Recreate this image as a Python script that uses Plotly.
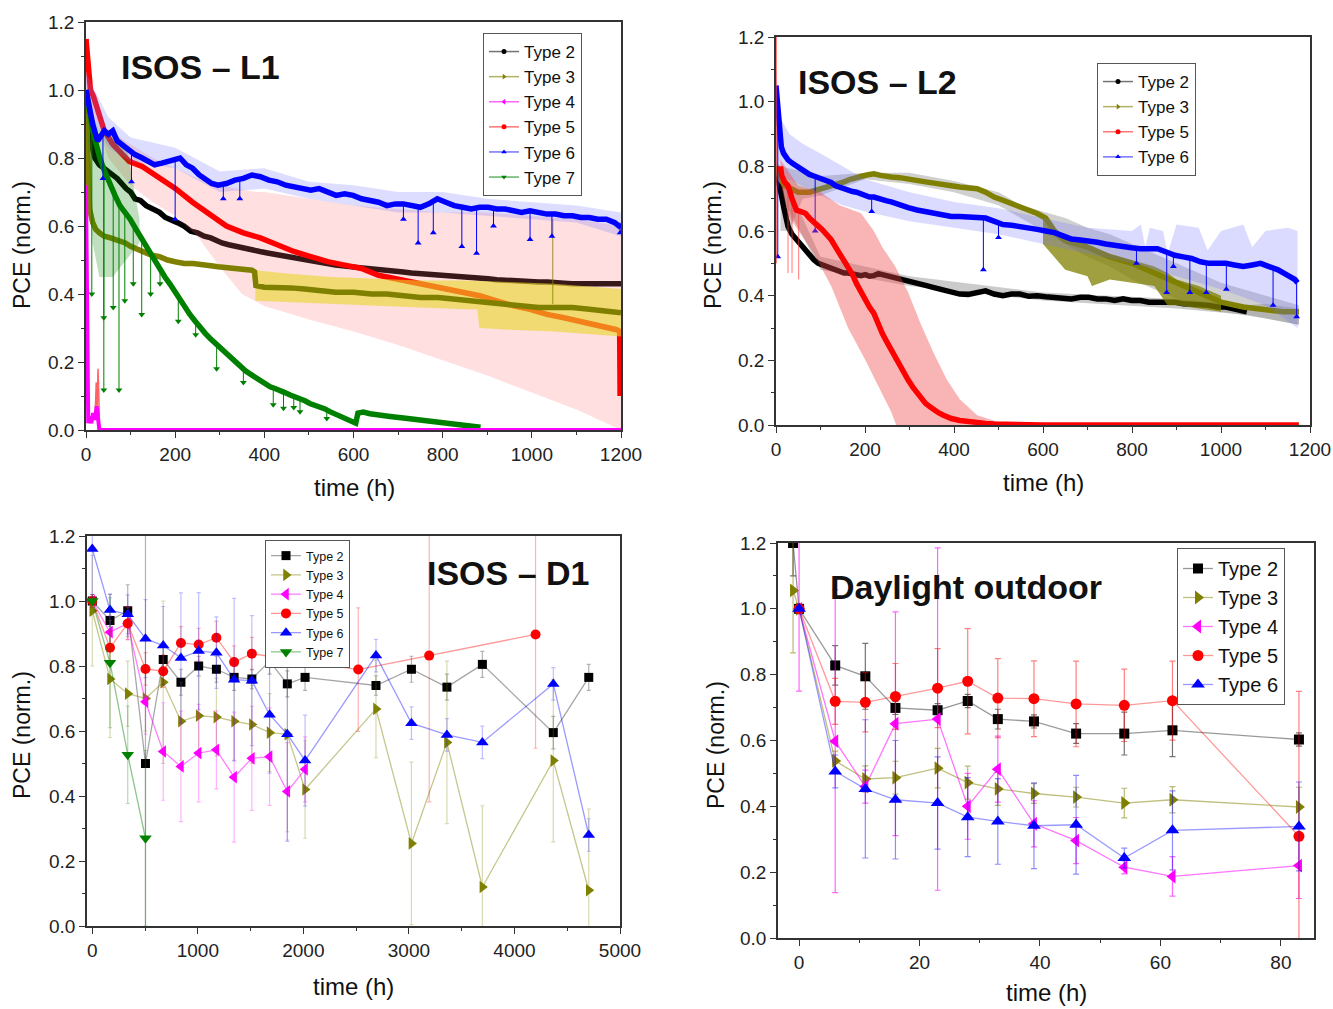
import plotly.graph_objects as go

W, H = 1333, 1009
FONT = "Arial, Liberation Sans, sans-serif"

C2, C3, C4, C5, C6, C7 = "#000000", "#808000", "#ff00ff", "#ff0000", "#0000ff", "#008000"

# ---------------- ISOS-L1: (time h, PCE norm.) ----------------
L1_TYPE2 = [(0, 1.0), (5, 0.90), (10, 0.85), (20, 0.80), (30, 0.78), (50, 0.76), (70, 0.74), (90, 0.71),
            (100, 0.70), (110, 0.68), (122, 0.675), (135, 0.66), (150, 0.65), (165, 0.64), (178, 0.625),
            (190, 0.62), (205, 0.61), (220, 0.60), (235, 0.585), (250, 0.58), (265, 0.57), (280, 0.565),
            (295, 0.555), (305, 0.55), (320, 0.545), (335, 0.54), (352, 0.535), (370, 0.53), (390, 0.525),
            (410, 0.52), (430, 0.515), (450, 0.51), (468, 0.505), (485, 0.50), (505, 0.495), (525, 0.49),
            (545, 0.487), (560, 0.485), (580, 0.482), (600, 0.48), (620, 0.477), (640, 0.475), (660, 0.472),
            (675, 0.47), (695, 0.467), (712, 0.465), (730, 0.462), (750, 0.46), (770, 0.462), (790, 0.46),
            (808, 0.457), (826, 0.455), (845, 0.452), (864, 0.45), (883, 0.447), (902, 0.445), (921, 0.442),
            (940, 0.44), (960, 0.44), (977, 0.44), (996, 0.437), (1015, 0.435), (1035, 0.435), (1055, 0.435),
            (1072, 0.432), (1090, 0.43), (1110, 0.43), (1130, 0.43), (1150, 0.43), (1167, 0.43), (1185, 0.43),
            (1200, 0.43)]
L1_TYPE3 = [(0, 1.0), (3, 0.80), (8, 0.65), (15, 0.61), (22, 0.59), (30, 0.58), (41, 0.57), (55, 0.565),
            (69, 0.56), (88, 0.55), (100, 0.54), (116, 0.53), (130, 0.525), (145, 0.515), (165, 0.51),
            (183, 0.50), (200, 0.495), (220, 0.49), (240, 0.49), (258, 0.485), (280, 0.483), (296, 0.48),
            (315, 0.478), (334, 0.475), (355, 0.472), (372, 0.47), (378, 0.465), (381, 0.425), (400, 0.42),
            (430, 0.42), (460, 0.418), (490, 0.415), (520, 0.41), (560, 0.405), (600, 0.405), (640, 0.40),
            (675, 0.40), (712, 0.395), (750, 0.39), (790, 0.39), (826, 0.385), (864, 0.38), (880, 0.375),
            (902, 0.375), (940, 0.37), (977, 0.365), (1015, 0.36), (1053, 0.36), (1091, 0.36), (1129, 0.355),
            (1167, 0.35), (1200, 0.345)]
L1_TYPE3_UP = [(380, 0.47), (450, 0.46), (550, 0.45), (650, 0.445), (750, 0.44), (850, 0.44), (950, 0.435),
               (1050, 0.43), (1150, 0.42), (1200, 0.415)]
L1_TYPE3_LO = [(380, 0.38), (450, 0.375), (550, 0.37), (650, 0.365), (750, 0.36), (850, 0.355), (878, 0.355),
               (882, 0.30), (950, 0.295), (1050, 0.29), (1150, 0.28), (1200, 0.275)]
L1_TYPE3_SPIKE_T = [1047]
L1_TYPE3_SPIKE_TOP = [0.62]
L1_TYPE3_SPIKE_LOW = [0.37]
L1_TYPE4 = [(0, 0.72), (1, 0.5), (2, 0.3), (3, 0.1), (5, 0.02), (8, 0.04), (12, 0.02), (16, 0.05), (20, 0.03),
            (24, 0.07), (27, 0.04), (30, 0.0), (1200, 0.0)]
L1_TYPE4_SPREAD = [(20, 0.03), (23, 0.14), (25, 0.06), (27, 0.18), (30, 0.04)]
L1_TYPE5 = [(0, 1.15), (2, 1.12), (5, 1.03), (10, 1.0), (17, 0.98), (26, 0.94), (41, 0.88), (60, 0.84),
            (80, 0.81), (97, 0.79), (126, 0.775), (164, 0.74), (201, 0.71), (239, 0.67), (277, 0.635),
            (315, 0.60), (353, 0.58), (391, 0.565), (429, 0.545), (466, 0.525), (504, 0.51), (542, 0.495),
            (580, 0.485), (618, 0.475), (656, 0.455), (694, 0.445), (731, 0.435), (769, 0.425), (807, 0.415),
            (845, 0.405), (883, 0.395), (921, 0.38), (959, 0.365), (996, 0.355), (1034, 0.34), (1072, 0.33),
            (1110, 0.32), (1148, 0.31), (1190, 0.295), (1197, 0.29), (1198, 0.10)]
L1_TYPE5_UP = [(0, 1.15), (20, 0.95), (50, 0.88), (100, 0.84), (150, 0.80), (200, 0.77), (250, 0.74),
               (300, 0.72), (380, 0.70), (400, 0.70), (500, 0.68), (600, 0.66), (700, 0.65), (800, 0.64),
               (900, 0.64), (1000, 0.63), (1100, 0.62), (1200, 0.60)]
L1_TYPE5_LO = [(0, 1.0), (50, 0.80), (100, 0.72), (150, 0.67), (200, 0.63), (250, 0.57), (300, 0.48),
               (350, 0.40), (400, 0.365), (500, 0.325), (600, 0.29), (700, 0.25), (800, 0.205), (900, 0.16),
               (1000, 0.11), (1100, 0.06), (1200, 0.0)]
L1_TYPE6 = [(0, 1.0), (3, 0.98), (8, 0.95), (15, 0.90), (26, 0.85), (35, 0.87), (41, 0.88), (50, 0.87),
            (60, 0.88), (70, 0.85), (79, 0.84), (97, 0.82), (110, 0.81), (126, 0.80), (140, 0.79), (154, 0.78),
            (170, 0.785), (183, 0.79), (197, 0.795), (211, 0.80), (225, 0.78), (239, 0.77), (254, 0.75),
            (268, 0.735), (282, 0.725), (296, 0.72), (315, 0.725), (334, 0.735), (353, 0.74), (372, 0.75),
            (391, 0.745), (410, 0.735), (429, 0.73), (448, 0.72), (466, 0.715), (485, 0.71), (504, 0.705),
            (523, 0.71), (542, 0.70), (561, 0.69), (580, 0.695), (599, 0.69), (618, 0.68), (637, 0.675),
            (656, 0.67), (675, 0.66), (694, 0.665), (712, 0.665), (731, 0.66), (750, 0.655), (769, 0.665),
            (788, 0.68), (807, 0.67), (826, 0.66), (845, 0.655), (864, 0.65), (883, 0.655), (902, 0.655),
            (921, 0.65), (940, 0.65), (959, 0.645), (977, 0.64), (996, 0.645), (1015, 0.64), (1034, 0.635),
            (1053, 0.635), (1072, 0.63), (1091, 0.63), (1110, 0.625), (1129, 0.625), (1148, 0.62),
            (1167, 0.62), (1186, 0.61), (1200, 0.595)]
L1_TYPE6_UP = [(0, 1.05), (50, 0.92), (100, 0.86), (200, 0.83), (300, 0.76), (400, 0.77), (500, 0.73),
               (600, 0.72), (700, 0.70), (800, 0.70), (900, 0.68), (1000, 0.67), (1100, 0.66), (1200, 0.64)]
L1_TYPE6_LO = [(0, 0.95), (50, 0.83), (100, 0.79), (200, 0.77), (300, 0.70), (400, 0.71), (500, 0.68),
               (600, 0.66), (700, 0.64), (800, 0.64), (900, 0.63), (1000, 0.62), (1100, 0.61), (1200, 0.57)]
L1_TYPE6_DIP_T = [38, 102, 200, 308, 345, 712, 745, 779, 843, 876, 914, 996, 1045, 1198]
L1_TYPE6_DIP_TOP = [0.87, 0.82, 0.80, 0.72, 0.74, 0.665, 0.655, 0.68, 0.655, 0.655, 0.65, 0.645, 0.635, 0.61]
L1_TYPE6_DIP_LOW = [0.74, 0.73, 0.62, 0.68, 0.68, 0.62, 0.55, 0.58, 0.54, 0.52, 0.60, 0.56, 0.57, 0.58]
L1_TYPE7 = [(0, 1.0), (5, 0.97), (9, 0.93), (15, 0.88), (20, 0.85), (31, 0.80), (42, 0.76), (54, 0.72),
            (65, 0.69), (76, 0.66), (88, 0.64), (99, 0.62), (110, 0.595), (121, 0.57), (133, 0.545),
            (144, 0.52), (155, 0.495), (166, 0.47), (177, 0.45), (188, 0.43), (200, 0.405), (211, 0.38),
            (222, 0.36), (233, 0.34), (245, 0.32), (256, 0.30), (267, 0.285), (278, 0.27), (290, 0.255),
            (301, 0.24), (312, 0.228), (323, 0.215), (334, 0.20), (345, 0.185), (357, 0.175), (368, 0.165),
            (379, 0.155), (390, 0.147), (401, 0.137), (413, 0.127), (424, 0.122), (435, 0.118), (446, 0.11),
            (458, 0.103), (469, 0.098), (480, 0.094), (491, 0.086), (502, 0.078), (514, 0.073), (525, 0.069),
            (536, 0.062), (547, 0.054), (558, 0.047), (570, 0.039), (581, 0.031), (592, 0.024), (605, 0.02),
            (610, 0.05), (622, 0.053), (637, 0.048), (652, 0.044), (667, 0.042), (682, 0.04), (712, 0.035),
            (742, 0.03), (771, 0.025), (801, 0.02), (831, 0.018), (846, 0.012), (870, 0.01), (885, 0.008)]
L1_TYPE7_UP = [(0, 1.0), (15, 0.93), (30, 0.88), (60, 0.88), (90, 0.84), (120, 0.62)]
L1_TYPE7_LO = [(0, 0.95), (15, 0.55), (30, 0.45), (60, 0.45), (90, 0.50), (120, 0.55)]
L1_TYPE7_DIP_T = [13, 40, 40, 61, 74, 87, 106, 125, 145, 166, 207, 246, 293, 353, 420, 443, 466, 480, 540]
L1_TYPE7_DIP_TOP = [0.90, 0.78, 0.78, 0.71, 0.67, 0.64, 0.605, 0.56, 0.52, 0.47, 0.39, 0.32, 0.25, 0.18,
                    0.13, 0.115, 0.10, 0.094, 0.064]
L1_TYPE7_DIP_LOW = [0.40, 0.33, 0.118, 0.36, 0.118, 0.38, 0.43, 0.34, 0.40, 0.43, 0.32, 0.28, 0.18, 0.14,
                    0.074, 0.064, 0.066, 0.054, 0.034]

# ---------------- ISOS-L2 ----------------
L2_TYPE2 = [(0, 0.80), (4, 0.76), (8, 0.74), (17, 0.676), (27, 0.614), (36, 0.59), (46, 0.573), (56, 0.555),
            (66, 0.542), (75, 0.525), (85, 0.511), (95, 0.50), (104, 0.495), (114, 0.49), (124, 0.485),
            (134, 0.478), (143, 0.475), (153, 0.47), (162, 0.47), (172, 0.466), (181, 0.465), (191, 0.462),
            (201, 0.465), (210, 0.46), (220, 0.462), (230, 0.468), (239, 0.465), (249, 0.462), (259, 0.458),
            (268, 0.455), (278, 0.45), (297, 0.447), (317, 0.44), (336, 0.432), (355, 0.425), (375, 0.418),
            (394, 0.41), (413, 0.405), (432, 0.404), (452, 0.41), (471, 0.415), (490, 0.405), (510, 0.40),
            (529, 0.405), (548, 0.405), (568, 0.398), (587, 0.40), (606, 0.397), (626, 0.395), (645, 0.39),
            (664, 0.39), (684, 0.395), (703, 0.395), (722, 0.39), (741, 0.39), (761, 0.385), (780, 0.39),
            (799, 0.385), (819, 0.385), (838, 0.38), (857, 0.38), (877, 0.378), (896, 0.38), (915, 0.375),
            (934, 0.375), (954, 0.372), (973, 0.37), (992, 0.365), (1011, 0.365), (1030, 0.36), (1050, 0.352),
            (1058, 0.35)]
L2_TYPE2_UP = [(0, 0.82), (100, 0.52), (300, 0.46), (600, 0.41), (900, 0.39), (1060, 0.37), (1100, 0.375),
               (1175, 0.36)]
L2_TYPE2_LO = [(0, 0.74), (100, 0.48), (300, 0.43), (600, 0.385), (900, 0.36), (1060, 0.34), (1100, 0.33),
               (1175, 0.31)]
L2_TYPE3 = [(2, 0.80), (10, 0.76), (20, 0.74), (35, 0.73), (50, 0.72), (75, 0.72), (100, 0.73), (125, 0.74),
            (143, 0.745), (153, 0.752), (167, 0.76), (181, 0.767), (195, 0.77), (210, 0.775), (220, 0.777),
            (235, 0.772), (249, 0.768), (259, 0.767), (278, 0.765), (297, 0.762), (317, 0.757), (336, 0.752),
            (355, 0.748), (375, 0.742), (394, 0.74), (413, 0.736), (432, 0.735), (452, 0.731), (471, 0.72),
            (490, 0.705), (510, 0.695), (529, 0.685), (548, 0.675), (568, 0.665), (587, 0.654), (606, 0.64),
            (615, 0.62), (626, 0.60), (650, 0.57), (700, 0.55), (750, 0.52), (800, 0.50), (850, 0.47),
            (900, 0.44), (950, 0.41), (1000, 0.38), (1050, 0.365), (1100, 0.355), (1140, 0.35), (1175, 0.35)]
L2_TYPE3_UP = [(600, 0.64), (650, 0.58), (700, 0.56), (710, 0.54), (750, 0.53), (800, 0.51), (850, 0.49),
               (880, 0.47), (900, 0.45), (950, 0.43), (1000, 0.40)]
L2_TYPE3_LO = [(600, 0.56), (650, 0.48), (700, 0.46), (710, 0.43), (750, 0.45), (800, 0.44), (850, 0.43),
               (880, 0.37), (900, 0.37), (950, 0.36), (1000, 0.35)]
L2_TYPE3_SPREAD_UP = [(10, 0.80), (100, 0.77), (200, 0.78), (300, 0.78), (400, 0.755), (500, 0.72),
                      (550, 0.68), (600, 0.66), (650, 0.64), (700, 0.61), (750, 0.59), (800, 0.56), (850, 0.53),
                      (900, 0.50), (950, 0.47), (1000, 0.44), (1050, 0.42), (1100, 0.40), (1175, 0.37)]
L2_TYPE3_SPREAD_LO = [(10, 0.60), (30, 0.60), (60, 0.70), (100, 0.71), (200, 0.76), (300, 0.745),
                      (400, 0.72), (500, 0.68), (550, 0.64), (600, 0.60), (650, 0.56), (700, 0.52), (750, 0.49),
                      (800, 0.45), (850, 0.42), (900, 0.39), (950, 0.37), (1000, 0.35), (1050, 0.34),
                      (1100, 0.33), (1175, 0.31)]
L2_TYPE5 = [(10, 0.80), (13, 0.77), (20, 0.75), (27, 0.74), (36, 0.70), (46, 0.665), (56, 0.66), (66, 0.655),
            (75, 0.64), (85, 0.625), (95, 0.615), (104, 0.604), (114, 0.59), (124, 0.573), (134, 0.55),
            (143, 0.53), (153, 0.51), (162, 0.49), (172, 0.465), (181, 0.437), (191, 0.41), (201, 0.386),
            (210, 0.365), (220, 0.345), (230, 0.31), (239, 0.283), (249, 0.257), (259, 0.232), (268, 0.205),
            (278, 0.18), (288, 0.16), (297, 0.139), (307, 0.118), (317, 0.098), (326, 0.082), (336, 0.067),
            (346, 0.056), (355, 0.046), (365, 0.038), (375, 0.031), (384, 0.025), (394, 0.02), (413, 0.014),
            (432, 0.01), (452, 0.007), (471, 0.005), (490, 0.003), (510, 0.002), (550, 0.001), (600, 0.0),
            (1175, 0.0)]
L2_TYPE5_UP = [(10, 0.82), (50, 0.74), (100, 0.72), (143, 0.68), (191, 0.655), (220, 0.60), (239, 0.55),
               (268, 0.49), (297, 0.41), (326, 0.31), (355, 0.22), (384, 0.14), (413, 0.08), (452, 0.03),
               (510, 0.005), (600, 0.0)]
L2_TYPE5_LO = [(10, 0.75), (27, 0.65), (85, 0.53), (124, 0.43), (162, 0.30), (201, 0.20), (230, 0.12),
               (259, 0.04), (270, 0.0), (600, 0.0)]
L2_TYPE5_SPIKE_T = [1, 27, 36, 51]
L2_TYPE5_SPIKE_TOP = [1.2, 0.74, 0.70, 0.66]
L2_TYPE5_SPIKE_LOW = [0.50, 0.47, 0.47, 0.45]
L2_TYPE6 = [(0, 1.05), (3, 1.0), (6, 0.93), (8, 0.90), (12, 0.86), (17, 0.84), (22, 0.83), (27, 0.82),
            (36, 0.81), (46, 0.80), (56, 0.79), (66, 0.78), (75, 0.775), (85, 0.77), (95, 0.765), (104, 0.76),
            (114, 0.755), (124, 0.75), (134, 0.74), (143, 0.735), (153, 0.73), (162, 0.725), (172, 0.722),
            (181, 0.72), (191, 0.715), (201, 0.71), (210, 0.705), (220, 0.705), (230, 0.70), (239, 0.697),
            (249, 0.693), (259, 0.69), (268, 0.685), (278, 0.68), (297, 0.672), (317, 0.665), (336, 0.66),
            (355, 0.655), (375, 0.65), (394, 0.645), (413, 0.645), (432, 0.645), (452, 0.642), (471, 0.64),
            (490, 0.63), (510, 0.62), (529, 0.618), (548, 0.615), (568, 0.61), (587, 0.605), (606, 0.60),
            (626, 0.595), (645, 0.585), (664, 0.575), (684, 0.572), (703, 0.57), (722, 0.565), (741, 0.56),
            (761, 0.555), (780, 0.55), (799, 0.548), (819, 0.545), (838, 0.545), (857, 0.545), (877, 0.535),
            (896, 0.525), (915, 0.52), (934, 0.515), (954, 0.505), (973, 0.50), (992, 0.50), (1011, 0.50),
            (1030, 0.495), (1050, 0.49), (1070, 0.495), (1089, 0.50), (1108, 0.49), (1128, 0.48),
            (1147, 0.465), (1166, 0.45), (1172, 0.44)]
L2_TYPE6_UP = [(0, 1.1), (10, 0.95), (30, 0.90), (60, 0.87), (100, 0.84), (150, 0.80), (200, 0.76),
               (300, 0.72), (400, 0.69), (500, 0.67), (600, 0.64), (700, 0.61), (800, 0.60), (820, 0.62),
               (830, 0.55), (840, 0.61), (870, 0.60), (880, 0.53), (900, 0.62), (950, 0.61), (970, 0.54),
               (1000, 0.60), (1050, 0.62), (1070, 0.55), (1100, 0.60), (1150, 0.61), (1172, 0.60)]
L2_TYPE6_LO = [(0, 0.70), (10, 0.76), (30, 0.76), (60, 0.74), (100, 0.71), (150, 0.68), (200, 0.66),
               (300, 0.63), (400, 0.61), (500, 0.59), (600, 0.56), (700, 0.53), (800, 0.50), (900, 0.46),
               (1000, 0.42), (1100, 0.37), (1172, 0.30)]
L2_TYPE6_DIP_T = [4, 88, 215, 466, 500, 810, 878, 893, 930, 967, 1012, 1117, 1170]
L2_TYPE6_DIP_TOP = [0.95, 0.77, 0.705, 0.64, 0.625, 0.548, 0.535, 0.525, 0.515, 0.505, 0.50, 0.49, 0.445]
L2_TYPE6_DIP_LOW = [0.52, 0.60, 0.66, 0.48, 0.58, 0.50, 0.41, 0.49, 0.41, 0.41, 0.42, 0.37, 0.335]

# ---------------- ISOS-D1 (weekly checks) ----------------
D1_T_LONG = [0, 168, 336, 504, 672, 840, 1008, 1176, 1344, 1512, 1680, 1848, 2016, 2688, 3024, 3360, 3696,
             4368, 4704]
D1_T_SHORT = [0, 168, 336, 504, 672, 840, 1008, 1176, 1344, 1512, 1680, 1848, 2016]
D1_T_TYPE5 = [0, 168, 336, 504, 672, 840, 1008, 1176, 1344, 1512, 2520, 3192, 4200]
D1_T_TYPE7 = [0, 168, 336, 504]
D1_TYPE2 = [1.0, 0.94, 0.97, 0.50, 0.82, 0.75, 0.80, 0.79, 0.765, 0.76, 0.815, 0.745, 0.765, 0.74, 0.79,
            0.735, 0.805, 0.595, 0.765]
D1_TYPE2_ERR = [0.02, 0.08, 0.08, 0.72, 0.05, 0.04, 0.03, 0.04, 0.04, 0.03, 0.04, 0.04, 0.04, 0.03, 0.04,
                0.04, 0.04, 0.05, 0.04]
D1_TYPE3 = [0.97, 0.76, 0.715, 0.70, 0.75, 0.63, 0.647, 0.643, 0.63, 0.62, 0.595, 0.59, 0.42, 0.668, 0.254,
            0.565, 0.12, 0.509, 0.11]
D1_TYPE3_ERR = [0.17, 0.18, 0.10, 0.10, 0.25, 0.12, 0.12, 0.12, 0.12, 0.12, 0.12, 0.30, 0.15, 0.15, 0.25,
                0.25, 0.25, 0.25, 0.25]
D1_TYPE4 = [1.0, 0.904, 0.931, 0.69, 0.537, 0.491, 0.532, 0.542, 0.458, 0.516, 0.521, 0.414, 0.482]
D1_TYPE4_ERR = [0.02, 0.05, 0.05, 0.10, 0.15, 0.17, 0.15, 0.12, 0.20, 0.16, 0.15, 0.15, 0.10]
D1_TYPE5 = [1.0, 0.856, 0.931, 0.791, 0.784, 0.871, 0.866, 0.887, 0.812, 0.838, 0.789, 0.832, 0.897]
D1_TYPE5_ERR = [0.02, 0.05, 0.05, 0.05, 0.05, 0.05, 0.05, 0.05, 0.05, 0.05, 0.19, 0.45, 0.35]
D1_TYPE6 = [1.16, 0.972, 0.959, 0.884, 0.863, 0.825, 0.846, 0.841, 0.758, 0.755, 0.65, 0.59, 0.509, 0.832,
            0.624, 0.588, 0.565, 0.745, 0.28]
D1_TYPE6_ERR = [0.15, 0.05, 0.06, 0.12, 0.12, 0.20, 0.18, 0.11, 0.25, 0.20, 0.18, 0.33, 0.14, 0.05, 0.05,
                0.05, 0.05, 0.05, 0.05]
D1_TYPE7 = [1.0, 0.81, 0.527, 0.27]
D1_TYPE7_ERR = [0.02, 0.20, 0.15, 0.27]

# ---------------- Daylight outdoor ----------------
DO_T_EXT = [-1, 0, 6, 11, 16, 23, 28, 33, 39, 46, 54, 62, 83]
DO_T = [0, 6, 11, 16, 23, 28, 33, 39, 46, 54, 62, 83]
DO_TYPE2 = [1.2, 1.0, 0.828, 0.795, 0.699, 0.692, 0.72, 0.665, 0.658, 0.621, 0.621, 0.631, 0.603]
DO_TYPE2_ERR = [0.10, 0.0, 0.06, 0.10, 0.02, 0.02, 0.02, 0.03, 0.02, 0.03, 0.065, 0.08, 0.02]
DO_TYPE3 = [1.056, 1.0, 0.538, 0.483, 0.487, 0.516, 0.472, 0.453, 0.439, 0.428, 0.41, 0.42, 0.398]
DO_TYPE3_ERR = [0.19, 0.0, 0.03, 0.04, 0.05, 0.06, 0.05, 0.05, 0.03, 0.03, 0.045, 0.04, 0.06]
DO_TYPE4 = [1.0, 0.598, 0.46, 0.651, 0.665, 0.40, 0.513, 0.347, 0.296, 0.215, 0.187, 0.22]
DO_TYPE4_ERR = [0.25, 0.46, 0.05, 0.34, 0.52, 0.10, 0.10, 0.07, 0.07, 0.02, 0.06, 0.10]
DO_TYPE5 = [1.0, 0.719, 0.716, 0.734, 0.759, 0.78, 0.729, 0.727, 0.711, 0.707, 0.721, 0.309]
DO_TYPE5_ERR = [0.0, 0.07, 0.09, 0.10, 0.12, 0.16, 0.12, 0.115, 0.13, 0.11, 0.12, 0.44]
DO_TYPE6 = [1.0, 0.506, 0.453, 0.42, 0.41, 0.367, 0.354, 0.341, 0.344, 0.243, 0.327, 0.339]
DO_TYPE6_ERR = [0.0, 0.05, 0.21, 0.18, 0.14, 0.12, 0.13, 0.13, 0.15, 0.03, 0.12, 0.135]


def unzip(pairs):
    return [p[0] for p in pairs], [p[1] for p in pairs]


def px_x(px):
    return px / W


def px_y(py):
    return 1 - py / H


fig = go.Figure()


def band(upper, lower, color, ax):
    tu, vu = unzip(upper)
    tl, vl = unzip(lower)
    fig.add_trace(go.Scatter(x=tu + tl[::-1], y=vu + vl[::-1], fill="toself", fillcolor=color,
                             mode="lines", line=dict(width=0), hoverinfo="skip", showlegend=False,
                             xaxis="x" + ax, yaxis="y" + ax))


def curve(pairs, color, width, ax):
    t, v = unzip(pairs)
    fig.add_trace(go.Scatter(x=t, y=v, mode="lines", line=dict(color=color, width=width),
                             showlegend=False, xaxis="x" + ax, yaxis="y" + ax))


def spikes(ts, tops, lows, color, symbol, ax, msize=6):
    xs, ys = [], []
    for t, a, b in zip(ts, tops, lows):
        xs += [t, t, None]
        ys += [a, b, None]
    fig.add_trace(go.Scatter(x=xs, y=ys, mode="lines", line=dict(color=color, width=1),
                             showlegend=False, xaxis="x" + ax, yaxis="y" + ax))
    if symbol:
        fig.add_trace(go.Scatter(x=ts, y=lows, mode="markers",
                                 marker=dict(symbol=symbol, size=msize, color=color),
                                 showlegend=False, xaxis="x" + ax, yaxis="y" + ax))


def legend_entry(name, color, linecolor, symbol, size, legend, ax):
    fig.add_trace(go.Scatter(x=[None], y=[None], mode="lines+markers", name=name, legend=legend,
                             line=dict(color=linecolor, width=1.5),
                             marker=dict(symbol=symbol, size=size, color=color),
                             xaxis="x" + ax, yaxis="y" + ax))


# ---- panel 1: ISOS-L1 ----
LW = 5.5
curve(L1_TYPE2, C2, LW, "")
band(L1_TYPE5_UP, L1_TYPE5_LO, "rgba(255,110,110,0.22)", "")
curve(L1_TYPE5, C5, LW, "")
band(L1_TYPE3_UP, L1_TYPE3_LO, "rgba(232,215,40,0.6)", "")
spikes(L1_TYPE3_SPIKE_T, L1_TYPE3_SPIKE_TOP, L1_TYPE3_SPIKE_LOW, "rgba(128,128,0,0.8)", None, "")
curve(L1_TYPE3, C3, LW, "")
band(L1_TYPE7_UP, L1_TYPE7_LO, "rgba(0,128,0,0.25)", "")
spikes(L1_TYPE7_DIP_T, L1_TYPE7_DIP_TOP, L1_TYPE7_DIP_LOW, C7, "triangle-down", "")
curve(L1_TYPE7, C7, LW, "")
band(L1_TYPE6_UP, L1_TYPE6_LO, "rgba(120,120,255,0.25)", "")
spikes(L1_TYPE6_DIP_T, L1_TYPE6_DIP_TOP, L1_TYPE6_DIP_LOW, C6, "triangle-up", "")
curve(L1_TYPE6, C6, LW, "")
curve(L1_TYPE4_SPREAD, "rgba(255,60,60,0.8)", 1.5, "")
curve(L1_TYPE4, C4, 4, "")
for name, col, lcol, sym in [("Type 2", C2, "rgba(0,0,0,0.55)", "circle"),
                             ("Type 3", C3, "rgba(128,128,0,0.6)", "triangle-right"),
                             ("Type 4", C4, "rgba(255,0,255,0.6)", "triangle-left"),
                             ("Type 5", C5, "rgba(255,0,0,0.55)", "circle"),
                             ("Type 6", C6, "rgba(0,0,255,0.55)", "triangle-up"),
                             ("Type 7", C7, "rgba(0,128,0,0.6)", "triangle-down")]:
    legend_entry(name, col, lcol, sym, 5, "legend", "")

# ---- panel 2: ISOS-L2 ----
band(L2_TYPE2_UP, L2_TYPE2_LO, "rgba(140,140,140,0.45)", "2")
band(L2_TYPE3_SPREAD_UP, L2_TYPE3_SPREAD_LO, "rgba(150,150,150,0.45)", "2")
curve(L2_TYPE2, C2, LW, "2")
band(L2_TYPE3_UP, L2_TYPE3_LO, "rgba(128,128,0,0.75)", "2")
curve(L2_TYPE3, C3, LW, "2")
band(L2_TYPE6_UP, L2_TYPE6_LO, "rgba(110,110,255,0.25)", "2")
spikes(L2_TYPE6_DIP_T, L2_TYPE6_DIP_TOP, L2_TYPE6_DIP_LOW, C6, "triangle-up", "2")
curve(L2_TYPE6, C6, LW, "2")
band(L2_TYPE5_UP, L2_TYPE5_LO, "rgba(240,70,70,0.4)", "2")
spikes(L2_TYPE5_SPIKE_T, L2_TYPE5_SPIKE_TOP, L2_TYPE5_SPIKE_LOW, "rgba(255,60,60,0.7)", None, "2")
curve(L2_TYPE5, C5, LW, "2")
for name, col, lcol, sym in [("Type 2", C2, "rgba(0,0,0,0.55)", "circle"),
                             ("Type 3", C3, "rgba(128,128,0,0.6)", "triangle-right"),
                             ("Type 5", C5, "rgba(255,0,0,0.55)", "circle"),
                             ("Type 6", C6, "rgba(0,0,255,0.55)", "triangle-up")]:
    legend_entry(name, col, lcol, sym, 5, "legend2", "2")


# ---- panels 3 and 4: markers with error bars ----
def err_series(t, v, err, name, col, lcol, ecol, sym, size, legend, ax, ew):
    fig.add_trace(go.Scatter(
        x=t, y=v, mode="lines+markers", name=name, legend=legend,
        line=dict(color=lcol, width=1.3),
        marker=dict(symbol=sym, size=size, color=col),
        error_y=dict(type="data", array=err, visible=True, color=ecol, thickness=1.2, width=ew),
        xaxis="x" + ax, yaxis="y" + ax))


D1_SERIES = [
    (D1_T_LONG, D1_TYPE2, D1_TYPE2_ERR, "Type 2", C2, "rgba(0,0,0,0.35)", "rgba(0,0,0,0.3)", "square", 9),
    (D1_T_LONG, D1_TYPE3, D1_TYPE3_ERR, "Type 3", C3, "rgba(128,128,0,0.45)", "rgba(128,128,0,0.3)",
     "triangle-right", 11),
    (D1_T_SHORT, D1_TYPE4, D1_TYPE4_ERR, "Type 4", C4, "rgba(255,0,255,0.5)", "rgba(255,0,255,0.3)",
     "triangle-left", 11),
    (D1_T_TYPE5, D1_TYPE5, D1_TYPE5_ERR, "Type 5", C5, "rgba(255,0,0,0.4)", "rgba(255,0,0,0.3)", "circle", 10),
    (D1_T_LONG, D1_TYPE6, D1_TYPE6_ERR, "Type 6", C6, "rgba(0,0,255,0.4)", "rgba(0,0,255,0.25)",
     "triangle-up", 11),
    (D1_T_TYPE7, D1_TYPE7, D1_TYPE7_ERR, "Type 7", C7, "rgba(0,128,0,0.45)", "rgba(0,128,0,0.3)",
     "triangle-down", 11),
]
for t, v, e, name, col, lcol, ecol, sym, size in D1_SERIES:
    err_series(t, v, e, name, col, lcol, ecol, sym, size, "legend3", "3", 2)

DO_SERIES = [
    (DO_T_EXT, DO_TYPE2, DO_TYPE2_ERR, "Type 2", C2, "rgba(0,0,0,0.4)", "rgba(0,0,0,0.55)", "square", 10),
    (DO_T_EXT, DO_TYPE3, DO_TYPE3_ERR, "Type 3", C3, "rgba(128,128,0,0.5)", "rgba(128,128,0,0.55)",
     "triangle-right", 12),
    (DO_T, DO_TYPE4, DO_TYPE4_ERR, "Type 4", C4, "rgba(255,0,255,0.55)", "rgba(255,0,255,0.6)",
     "triangle-left", 12),
    (DO_T, DO_TYPE5, DO_TYPE5_ERR, "Type 5", C5, "rgba(255,0,0,0.4)", "rgba(255,0,0,0.5)", "circle", 11),
    (DO_T, DO_TYPE6, DO_TYPE6_ERR, "Type 6", C6, "rgba(0,0,255,0.4)", "rgba(0,0,255,0.45)", "triangle-up", 12),
]
for t, v, e, name, col, lcol, ecol, sym, size in DO_SERIES:
    err_series(t, v, e, name, col, lcol, ecol, sym, size, "legend4", "4", 3)


# ---- axes ----
def xaxis(dom, rng, dtick, minor, anchor):
    return dict(domain=dom, range=rng, dtick=dtick, tick0=0, anchor=anchor, automargin=False,
                showline=True, linecolor="#333", linewidth=1.5, mirror=True,
                ticks="outside", ticklen=6, tickwidth=1.3, tickcolor="#333",
                minor=dict(ticks="outside", ticklen=3.5, tickwidth=1, tickcolor="#333", dtick=minor),
                showgrid=False, zeroline=False,
                tickfont=dict(family=FONT, size=19, color="#222"))


def yaxis(dom, anchor):
    return dict(domain=dom, range=[0, 1.2], dtick=0.2, tick0=0, tickformat=".1f", anchor=anchor,
                automargin=False,
                showline=True, linecolor="#333", linewidth=1.5, mirror=True,
                ticks="outside", ticklen=6, tickwidth=1.3, tickcolor="#333",
                minor=dict(ticks="outside", ticklen=3.5, tickwidth=1, tickcolor="#333", dtick=0.1),
                showgrid=False, zeroline=False,
                tickfont=dict(family=FONT, size=19, color="#222"))


def legend_box(x0, y0, size):
    return dict(x=px_x(x0), y=px_y(y0), xanchor="left", yanchor="top",
                bgcolor="white", bordercolor="#555", borderwidth=1,
                font=dict(family=FONT, size=size, color="#111"), tracegroupgap=0)


fig.update_layout(
    width=W, height=H, margin=dict(l=0, r=0, t=0, b=0, autoexpand=False),
    paper_bgcolor="white", plot_bgcolor="white",
    xaxis=xaxis([px_x(86), px_x(621)], [0, 1200], 200, 100, "y"),
    yaxis=yaxis([px_y(430), px_y(22)], "x"),
    xaxis2=xaxis([px_x(776), px_x(1310)], [0, 1200], 200, 100, "y2"),
    yaxis2=yaxis([px_y(425), px_y(37)], "x2"),
    xaxis3=xaxis([px_x(87), px_x(620)], [-50, 5000], 1000, 500, "y3"),
    yaxis3=yaxis([px_y(926), px_y(536)], "x3"),
    xaxis4=xaxis([px_x(778), px_x(1314)], [-3.5, 85.5], 20, 10, "y4"),
    yaxis4=yaxis([px_y(938), px_y(543)], "x4"),
    legend=legend_box(483, 33, 17),
    legend2=legend_box(1097, 63, 17),
    legend3=legend_box(265, 540, 12.5),
    legend4=legend_box(1177, 548, 20),
    showlegend=True,
)

# ---- text: panel titles and axis titles ----
for txt, cx, cy in [("ISOS – L1", 200, 67), ("ISOS – L2", 877, 82),
                    ("ISOS – D1", 509, 573), ("Daylight outdoor", 966, 587)]:
    fig.add_annotation(text="<b>%s</b>" % txt, x=px_x(cx), y=px_y(cy), xref="paper", yref="paper",
                       showarrow=False, xanchor="center", yanchor="middle",
                       font=dict(family=FONT, size=34, color="#111"))

for cx, cy in [(354, 488), (1043, 482), (353, 986), (1046, 992)]:
    fig.add_annotation(text="time (h)", x=px_x(cx), y=px_y(cy), xref="paper", yref="paper",
                       showarrow=False, xanchor="center", yanchor="middle",
                       font=dict(family=FONT, size=24, color="#111"))

for cx, cy in [(22, 245), (713, 245), (22, 735), (716, 745)]:
    fig.add_annotation(text="PCE (norm.)", x=px_x(cx), y=px_y(cy), xref="paper", yref="paper",
                       showarrow=False, xanchor="center", yanchor="middle", textangle=-90,
                       font=dict(family=FONT, size=23, color="#111"))

fig.write_html("out.html")
